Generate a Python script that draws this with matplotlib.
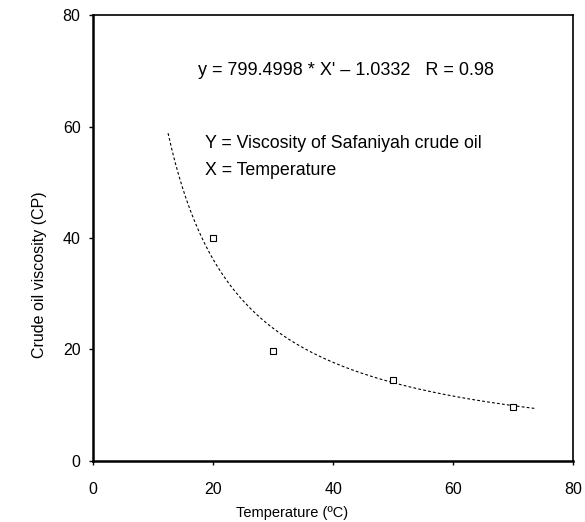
import numpy as np
import matplotlib
matplotlib.use('Agg')
import matplotlib.pyplot as plt

''' Viscosity of Safaniyah crude oil vs temperature '''

temperature = [20, 30, 50, 70]
viscosity = [40, 19.7, 14.6, 9.6]

coef_a = 799.4998
coef_b = -1.0332
fit_range = [12.5, 73.5]

x_ticks = [0, 20, 40, 60, 80]
y_ticks = [0, 20, 40, 60, 80]

plt.rcParams['font.family'] = ['Liberation Sans', 'DejaVu Sans']

fig = plt.figure(figsize=(5.85, 5.22), dpi=100)
ax = fig.add_axes([0.159, 0.117, 0.821, 0.854])

x_fit = np.linspace(fit_range[0], fit_range[1], 200)
y_fit = coef_a * x_fit ** coef_b
ax.plot(x_fit, y_fit, color='black', lw=0.8, linestyle=(0, (2.5, 2)))
ax.plot(temperature, viscosity, linestyle='none', marker='s', markersize=5,
        markerfacecolor='white', markeredgecolor='black', markeredgewidth=0.8)

ax.set_xlim(0, 80)
ax.set_ylim(0, 80)
ax.set_xticks(x_ticks)
ax.set_yticks(y_ticks)
ax.tick_params(direction='out', length=3, width=1, labelsize=11.5)
ax.tick_params(axis='x', pad=12)
ax.tick_params(axis='y', pad=6)

for side in ['left', 'bottom']:
    ax.spines[side].set_linewidth(1.8)
for side in ['top', 'right']:
    ax.spines[side].set_linewidth(1.2)

ax.set_xlabel('Temperature (ºC)', fontsize=10.5)
ax.set_ylabel('Crude oil viscosity (CP)', fontsize=11.5)
ax.xaxis.set_label_coords(0.415, -0.1)
ax.yaxis.set_label_coords(-0.096, 0.417)

ax.text(17.5, 70, "y = 799.4998 * X' \u2013 1.0332   R = 0.98", fontsize=13, va='center')
ax.text(18.7, 57, 'Y = Viscosity of Safaniyah crude oil', fontsize=12.8, va='center')
ax.text(18.7, 52.2, 'X = Temperature', fontsize=12.8, va='center')

plt.savefig('out.png', dpi=100)
